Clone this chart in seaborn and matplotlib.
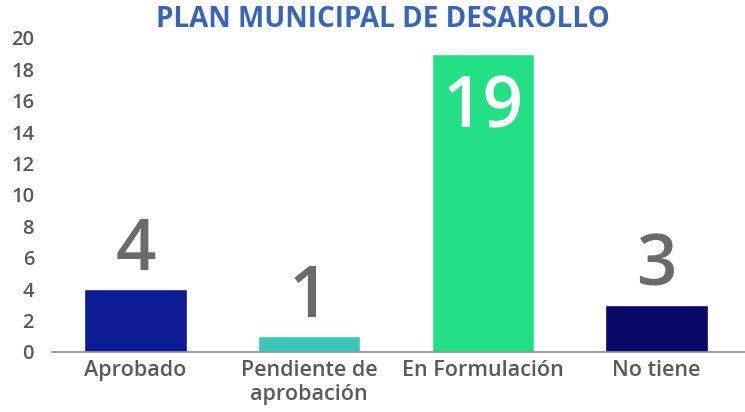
import matplotlib
matplotlib.use("Agg")
import matplotlib.pyplot as plt
import seaborn as sns
import pandas as pd

# Chart data
categories = ["Aprobado", "Pendiente de\naprobación", "En Formulación", "No tiene"]
values = [4, 1, 19, 3]
bar_colors = ["#0c1a94", "#3cc6b9", "#23e086", "#0a0866"]

sns.set_style("white")
plt.rcParams['font.family'] = ['Open Sans', 'DejaVu Sans']

df = pd.DataFrame({'Estado': categories, 'Municipios': values})

fig = plt.figure(figsize=(7.45, 4.12), dpi=100)
ax = fig.add_axes([0.07, 0.146, 0.93, 0.762])

sns.barplot(data=df, x='Estado', y='Municipios', hue='Estado', palette=bar_colors,
            width=0.59, saturation=1, legend=False, ax=ax)

# value labels: above the bar, except the tall one which goes inside
for i, v in enumerate(values):
    if v > 15:
        ax.text(i, v - 4.7, str(v), ha='center', va='baseline', fontsize=51,
                fontweight='semibold', color='white')
    else:
        ax.text(i, v + 1.2, str(v), ha='center', va='baseline', fontsize=51,
                fontweight='semibold', color='#6b6b6b')

ax.set_ylim(0, 20)
ax.set_xlim(-0.48, 3.51)
ax.set_yticks(range(0, 21, 2))
ax.set_xlabel("")
ax.set_ylabel("")
sns.despine(ax=ax, left=True, top=True, right=True)
ax.spines['bottom'].set_color('#8a8aa8')
ax.spines['bottom'].set_linewidth(1.2)
ax.tick_params(axis='y', length=0, colors='#595959', labelsize=14.5, pad=13)
ax.tick_params(axis='x', length=0, colors='#595959', labelsize=15.5, pad=6)
for lbl in ax.get_xticklabels() + ax.get_yticklabels():
    lbl.set_fontweight('semibold')
    lbl.set_color('#595959')

fig.text(383 / 745, 0.952, "PLAN MUNICIPAL DE DESAROLLO", ha='center', va='center',
         fontsize=20, fontweight='bold', color='#3a64b8')

fig.savefig("out.png", dpi=100)
